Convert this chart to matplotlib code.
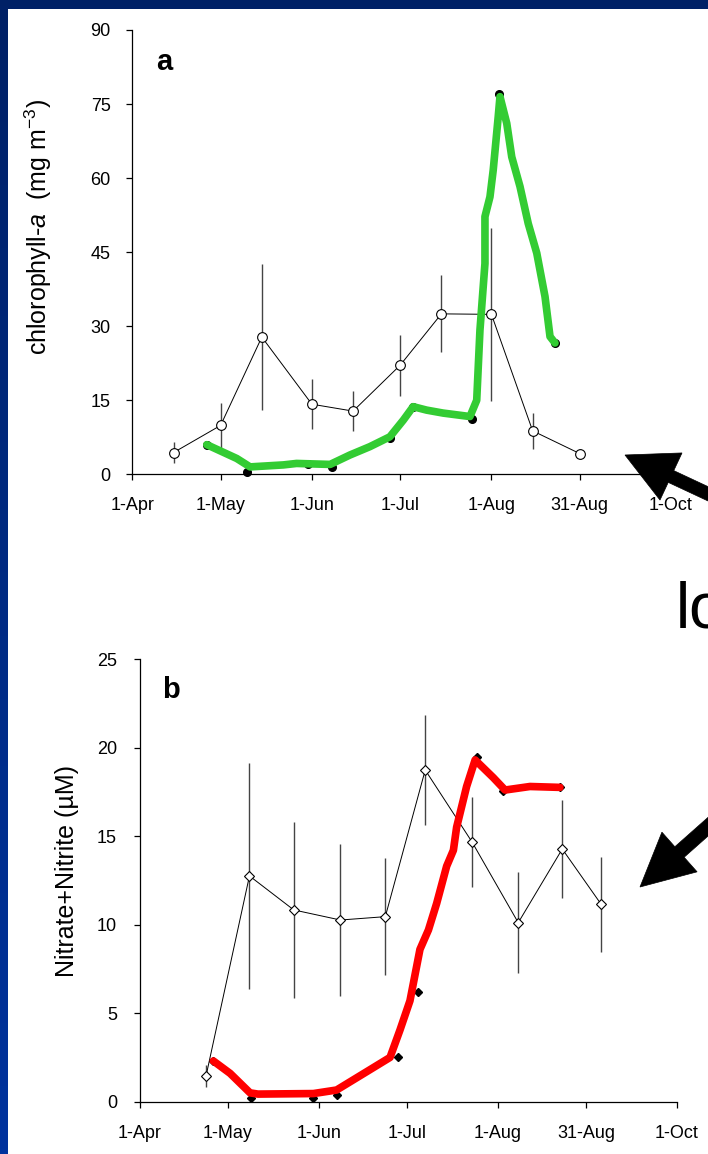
import numpy as np
import matplotlib
matplotlib.use('Agg')
import matplotlib.pyplot as plt
from matplotlib.patches import Polygon

plt.rcParams['font.family'] = ['Liberation Sans', 'DejaVu Sans']
plt.rcParams['mathtext.fontset'] = 'custom'
plt.rcParams['mathtext.rm'] = 'Liberation Sans'
plt.rcParams['mathtext.it'] = 'Liberation Sans:italic'

# ---------------- data (x = day of year) ----------------
tick_doy = [91, 121, 152, 182, 213, 243, 274]
tick_labels = ['1-Apr', '1-May', '1-Jun', '1-Jul', '1-Aug', '31-Aug', '1-Oct']

# panel a: chlorophyll-a
chl_mean_doy = [105, 121, 135, 152, 166, 182, 196, 213, 227, 243]
chl_mean = [4.4, 9.9, 27.8, 14.2, 12.8, 22.1, 32.5, 32.4, 8.8, 4.2]
chl_err = [2.2, 4.6, 14.8, 5.1, 4.0, 6.2, 7.8, 17.5, 3.7, 1.0]

chl_site_doy = [116.3, 129.9, 150.8, 158.7, 178.5, 186.4, 206.4, 215.7, 234.6]
chl_site = [5.9, 0.5, 2.0, 1.5, 7.3, 13.7, 11.3, 77.0, 26.6]

chl_trace_doy = [116.3, 126.5, 131.0, 142.3, 146.8, 158.2, 164.9, 171.7, 178.5,
                 183.1, 186.4, 191.0, 196.6, 205.7, 208.0, 209.1, 210.8, 210.8,
                 212.5, 213.6, 215.3, 215.9, 218.2, 219.9, 222.7, 225.5, 228.4,
                 231.2, 232.9, 234.6]
chl_trace = [6.0, 3.2, 1.5, 1.9, 2.2, 2.0, 3.9, 5.6, 7.6,
             11.0, 13.7, 13.0, 12.4, 11.7, 15.0, 29.2, 42.7, 52.2,
             56.2, 61.6, 72.4, 76.5, 71.1, 64.3, 58.3, 50.8, 44.8,
             36.0, 27.9, 26.6]

# panel b: nitrate + nitrite
nit_mean_doy = [113.5, 128.3, 143.4, 159.3, 174.6, 188.2, 204.1, 219.9, 234.9, 248.1]
nit_mean = [1.45, 12.75, 10.83, 10.26, 10.45, 18.73, 14.68, 10.11, 14.27, 11.16]
nit_err = [0.63, 6.4, 4.95, 4.28, 3.3, 3.1, 2.55, 2.85, 2.78, 2.68]

nit_site_doy = [116.0, 128.8, 150.1, 158.0, 179.0, 185.9, 205.8, 214.8, 234.1]
nit_site = [2.3, 0.2, 0.2, 0.4, 2.5, 6.2, 19.45, 17.56, 17.75]

nit_trace_doy = [116.0, 121.7, 128.5, 131.2, 150.1, 158.0, 168.3, 176.2, 179.6,
                 183.0, 186.4, 189.3, 192.1, 195.5, 197.8, 198.9, 202.3, 205.2,
                 211.4, 215.4, 223.9, 234.1]
nit_trace = [2.3, 1.6, 0.5, 0.43, 0.46, 0.66, 1.7, 2.5, 4.05,
             5.7, 8.6, 9.7, 11.2, 13.3, 14.2, 15.5, 17.8, 19.3,
             18.3, 17.6, 17.8, 17.75]

# ---------------- figure ----------------
W, H = 708, 1154
fig = plt.figure(figsize=(W / 100, H / 100), dpi=100)
fig.patch.set_facecolor('white')

# blue slide border (gradient)
bg = fig.add_axes([0, 0, 1, 1], zorder=-10)
bg.set_xlim(0, W)
bg.set_ylim(H, 0)
bg.axis('off')
grad = np.linspace(0, 1, 256)[:, None]
cols = np.zeros((256, 1, 3))
top_c = np.array([0.0, 0.13, 0.40])
bot_c = np.array([0.0, 0.20, 0.62])
for i in range(3):
    cols[:, 0, i] = top_c[i] + (bot_c[i] - top_c[i]) * grad[:, 0]
bg.imshow(cols, extent=[0, 8, H, 0], aspect='auto')
bg.imshow(cols[:8], extent=[0, W, 9, 0], aspect='auto')


def style_axis(ax, ymax, ystep, ypad):
    ax.set_xlim(tick_doy[0], tick_doy[-1])
    ax.set_ylim(0, ymax)
    ax.set_xticks(tick_doy)
    ax.set_xticklabels(tick_labels)
    ax.set_yticks(np.arange(0, ymax + 0.1, ystep))
    for s in ['top', 'right']:
        ax.spines[s].set_visible(False)
    for s in ['left', 'bottom']:
        ax.spines[s].set_linewidth(0.9)
    ax.tick_params(axis='both', direction='out', length=4.5, width=0.9,
                   labelsize=13)
    ax.tick_params(axis='y', pad=ypad)
    ax.tick_params(axis='x', pad=12)
    ax.set_facecolor('none')


# panel a
axA = fig.add_axes([132.3 / W, 1 - 474.3 / H, (671 - 132.3) / W, (474.3 - 30) / H])
style_axis(axA, 90, 15, 11)
axA.errorbar(chl_mean_doy, chl_mean, yerr=chl_err, fmt='o-', color='black', lw=0.7,
             mfc='white', mec='black', ms=7, mew=0.8, ecolor='#444444',
             elinewidth=1.0, capsize=0, zorder=3)
axA.plot(chl_site_doy, chl_site, 'o', color='black', ms=5.5, zorder=4, clip_on=False)
axA.plot(chl_trace_doy, chl_trace, color='#33CC33', lw=5.5, solid_capstyle='round',
         solid_joinstyle='round', zorder=5, clip_on=False)

# panel b
axB = fig.add_axes([140 / W, 1 - 1101.7 / H, (677 - 140) / W, (1101.7 - 659) / H])
style_axis(axB, 25, 5, 12)
axB.errorbar(nit_mean_doy, nit_mean, yerr=nit_err, fmt='D-', color='black', lw=0.7,
             mfc='white', mec='black', ms=5.5, mew=0.8, ecolor='#444444',
             elinewidth=1.0, capsize=0, zorder=3)
axB.plot(nit_site_doy, nit_site, 'D', color='black', ms=4.5, zorder=4, clip_on=False)
axB.plot(nit_trace_doy, nit_trace, color='#FF0000', lw=5.5, solid_capstyle='round',
         solid_joinstyle='round', zorder=5, clip_on=False)

# axis titles and panel letters
fig.text(38 / W, 1 - 227 / H, r'chlorophyll-$\it{a}$  (mg m$^{-3}$)', rotation=90,
         ha='center', va='center', fontsize=18)
fig.text(67 / W, 1 - 871 / H, 'Nitrate+Nitrite (\u00b5M)', rotation=90,
         ha='center', va='center', fontsize=18)
fig.text(156 / W, 1 - 70 / H, 'a', fontsize=21, fontweight='bold', va='baseline')
fig.text(162 / W, 1 - 698 / H, 'b', fontsize=21, fontweight='bold', va='baseline')

# slide overlay: big text (cut at the right edge as in the slide) and arrows
fig.text(676 / W, 1 - 627 / H, 'lo', fontsize=46, va='baseline', ha='left')


def arrow(tip, base_mid, head_half, shaft_half, tail_len):
    t = np.array(tip, float)
    m = np.array(base_mid, float)
    u = (m - t) / np.linalg.norm(m - t)
    n = np.array([-u[1], u[0]])
    tail = m + tail_len * u
    pts = [t, m + head_half * n, m + shaft_half * n, tail + shaft_half * n,
           tail - shaft_half * n, m - shaft_half * n, m - head_half * n]
    pts = [(p[0] / W, 1 - p[1] / H) for p in pts]
    fig.patches.append(Polygon(pts, closed=True, transform=fig.transFigure,
                               facecolor='black', edgecolor='black', lw=0.5,
                               zorder=20))


arrow((625, 455), (671, 476.5), 26, 6.5, 60)
arrow((640, 887), (679.5, 852), 26.5, 7, 60)

fig.savefig('out.png', dpi=100)
